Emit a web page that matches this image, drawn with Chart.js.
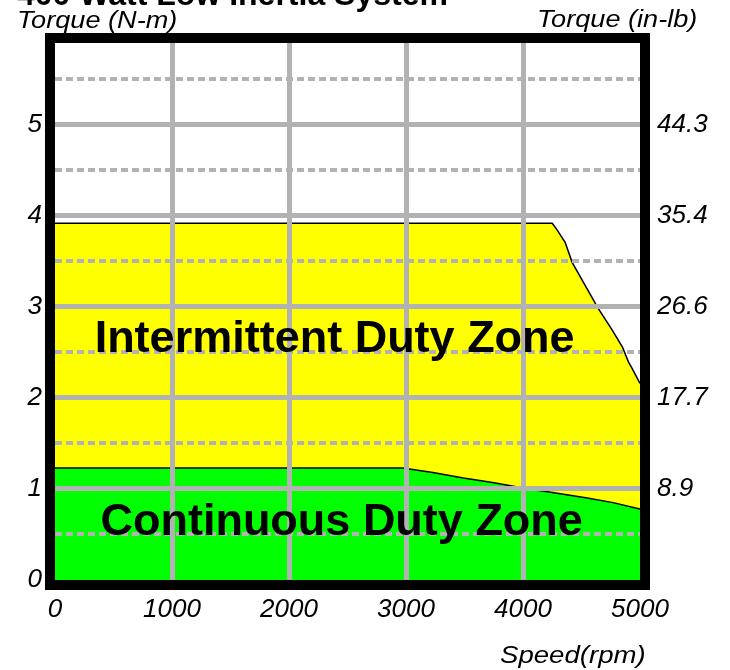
<!DOCTYPE html>
<html>
<head>
<meta charset="utf-8">
<script src="https://cdn.jsdelivr.net/npm/chart.js@4"></script>
<style>
  body { margin: 0; background: #fff; }
  canvas { display: block; }
</style>
</head>
<body>
<canvas id="torqueChart" width="730" height="670"></canvas>
<script>
// speed (rpm) vs torque (N-m)
const intermittentSpeed = [0, 4250, 4290, 4360, 4420, 4530, 4640, 4760, 4850, 4900, 4930, 5000];
const intermittentTorque = [3.92, 3.92, 3.85, 3.71, 3.49, 3.24, 2.99, 2.75, 2.56, 2.40, 2.33, 2.16];
const continuousSpeed = [0, 2970, 3230, 3490, 3740, 4000, 4210, 4550, 4770, 5000];
const continuousTorque = [1.23, 1.23, 1.18, 1.12, 1.07, 1.01, 0.97, 0.90, 0.85, 0.78];

const speedTicks = [0, 1000, 2000, 3000, 4000, 5000];
const torqueTicks = [0, 0.5, 1, 1.5, 2, 2.5, 3, 3.5, 4, 4.5, 5, 5.5];
const torqueInLbTicks = [8.9, 17.7, 26.6, 35.4, 44.3];
const zoneNames = ['Intermittent Duty Zone', 'Continuous Duty Zone'];

const chartTitle = '400 Watt Low Inertia System';
const leftTitle = 'Torque (N-m)';
const rightTitle = 'Torque (in-lb)';
const bottomTitle = 'Speed(rpm)';

const torqueMax = 5.9;
const nmToInLb = 8.85;
const gridGray = '#b2b2b2';
const fontFamily = '"Liberation Sans", Arial, Helvetica, sans-serif';

Chart.defaults.font.family = fontFamily;
Chart.defaults.color = '#000';

function wideText(ctx, text, x, y, sx) {
    ctx.save();
    ctx.translate(x, y);
    ctx.scale(sx, 1);
    ctx.fillText(text, 0, 0);
    ctx.restore();
}

const decorations = {
    id: 'decorations',
    afterDraw(chart, args, opts) {
        const { ctx, chartArea: a, scales } = chart;
        ctx.save();
        // heavy frame around the plot
        ctx.lineWidth = 10;
        ctx.strokeStyle = '#000';
        ctx.strokeRect(a.left - 5, a.top - 5, a.right - a.left + 10, a.bottom - a.top + 10);

        ctx.fillStyle = '#000';
        ctx.textBaseline = 'alphabetic';
        ctx.textAlign = 'center';
        ctx.font = 'bold 45px ' + fontFamily;
        opts.zones.forEach((z, i) => {
            ctx.fillText(zoneNames[i], scales.x.getPixelForValue(z.x), scales.y.getPixelForValue(z.y));
        });

        ctx.textAlign = 'left';
        ctx.font = 'bold 32px ' + fontFamily;
        ctx.fillText(chartTitle, 17, 5);

        ctx.font = 'italic 23px ' + fontFamily;
        wideText(ctx, leftTitle, 17, 28, 1.18);
        wideText(ctx, rightTitle, 537, 27, 1.18);
        wideText(ctx, bottomTitle, 500, 663, 1.2);
        ctx.restore();
    }
};

const tickFont = { size: 26, style: 'italic' };

new Chart(document.getElementById('torqueChart'), {
    type: 'line',
    data: {
        datasets: [{
            label: 'Continuous Duty Zone',
            data: continuousSpeed.map((s, i) => ({ x: s, y: continuousTorque[i] })),
            borderColor: '#000',
            borderWidth: 1.5,
            backgroundColor: '#00ff00',
            fill: 'origin',
            pointRadius: 0,
            tension: 0
        }, {
            label: 'Intermittent Duty Zone',
            data: intermittentSpeed.map((s, i) => ({ x: s, y: intermittentTorque[i] })),
            borderColor: '#000',
            borderWidth: 1.5,
            backgroundColor: '#ffff00',
            fill: 'origin',
            pointRadius: 0,
            tension: 0
        }]
    },
    options: {
        responsive: false,
        animation: false,
        layout: { padding: { top: 43, left: 0, right: 0, bottom: 0 } },
        plugins: {
            legend: { display: false },
            tooltip: { enabled: false },
            decorations: { zones: [{ x: 2390, y: 2.5 }, { x: 2450, y: 0.49 }] }
        },
        scales: {
            x: {
                type: 'linear',
                min: 0,
                max: 5000,
                afterBuildTicks: s => { s.ticks = speedTicks.map(v => ({ value: v })); },
                afterFit: s => { s.height = 90; },
                grid: {
                    z: 1,
                    lineWidth: 5,
                    drawTicks: false,
                    color: c => (c.tick && (c.tick.value === 0 || c.tick.value === 5000)) ? 'rgba(0,0,0,0)' : gridGray
                },
                border: { display: false },
                ticks: {
                    font: tickFont,
                    padding: 14,
                    autoSkip: false,
                    maxRotation: 0,
                    callback: v => String(v)
                }
            },
            y: {
                position: 'left',
                min: 0,
                max: torqueMax,
                afterBuildTicks: s => { s.ticks = torqueTicks.map(v => ({ value: v })); },
                afterFit: s => { s.width = 55; },
                grid: {
                    z: 1,
                    lineWidth: c => (c.tick && c.tick.value % 1 !== 0) ? 4 : 5,
                    drawTicks: false,
                    color: c => (c.tick && c.tick.value === 0) ? 'rgba(0,0,0,0)' : gridGray,
                    borderDash: c => (c.tick && c.tick.value % 1 !== 0) ? [7, 4] : []
                },
                border: {
                    display: false,
                    dash: c => (c.tick && c.tick.value % 1 !== 0) ? [7, 4] : []
                },
                ticks: {
                    font: tickFont,
                    padding: 13,
                    autoSkip: false,
                    callback: v => (v % 1 === 0) ? String(v) : ''
                }
            },
            y2: {
                position: 'right',
                min: 0,
                max: torqueMax * nmToInLb,
                afterBuildTicks: s => { s.ticks = torqueInLbTicks.map(v => ({ value: v })); },
                afterFit: s => { s.width = 90; },
                grid: { display: false, drawTicks: false },
                border: { display: false },
                ticks: {
                    font: tickFont,
                    padding: 17,
                    autoSkip: false,
                    callback: v => v.toFixed(1)
                }
            }
        }
    },
    plugins: [decorations]
});
</script>
</body>
</html>
